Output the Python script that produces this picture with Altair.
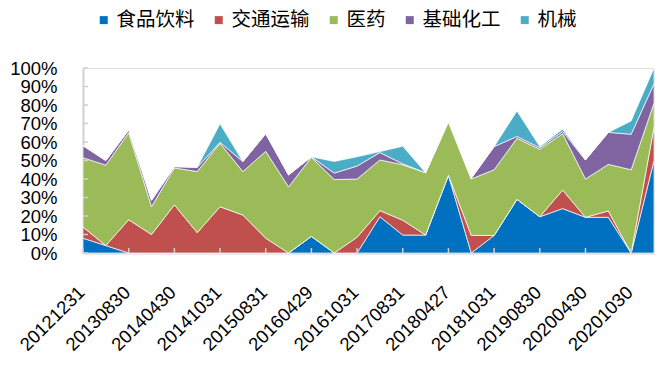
import altair as alt
import pandas as pd

dates = ["20121231", "20130430", "20130830", "20131231", "20140430", "20140829",
         "20141031", "20150430", "20150831", "20151231", "20160429", "20160831",
         "20161031", "20170428", "20170831", "20171229", "20180427", "20180831",
         "20181031", "20190430", "20190830", "20191231", "20200430", "20200831",
         "20201030", "20201231"]
shown_dates = dates[::2]

series = ["食品饮料", "交通运输", "医药", "基础化工", "机械"]
colors = ["#0070C0", "#C0504D", "#9BBB59", "#8064A2", "#4BACC6"]

food = [8, 4, 0, 0, 0, 0, 0, 0, 0, 0, 9, 0, 0, 19.6, 9.7, 9.7, 42, 0, 9.5, 29, 19.6, 24, 19.3, 19.3, 0, 50]
transport = [6, 0, 18, 10, 26, 11, 25, 20.5, 8, 0, 0, 0, 8.5, 3.3, 8, 0, 0, 9.5, 0, 0, 0, 10, 0, 3.4, 0, 18]
pharma = [37.5, 43.5, 47, 15, 20, 33, 34.3, 23.5, 47, 35.7, 42.7, 39.7, 31.5, 27.4, 30, 33.7, 28.7, 30.5, 35.5, 33, 36.4, 30.5, 20.7, 25.2, 45, 13]
chem = [6.5, 2.5, 1.5, 3.5, 0.7, 2.3, 0.5, 5.4, 9.5, 6.5, 0.3, 3.5, 7, 4, 0.5, 0, 0.8, 0.4, 12.5, 1, 0.9, 1.2, 10.3, 17.3, 19.2, 10.5]
machinery = [0, 0, 0, 0, 0, 0, 10, 0, 0, 0, 0, 6.3, 5, 0.5, 9.5, 0, 0, 0, 0, 13.8, 0.6, 1.3, 0, 0, 7.2, 8.5]

y_ticks = [0, 10, 20, 30, 40, 50, 60, 70, 80, 90, 100]

rows = []
for k, (name, vals) in enumerate(zip(series, [food, transport, pharma, chem, machinery])):
    for d, v in zip(dates, vals):
        rows.append({"date": d, "series": name, "value": v, "idx": k})
df = pd.DataFrame(rows)

W, H = 571, 185
LABEL_FONT = "Liberation Sans"

xscale = alt.Scale(type="point", padding=0, domain=dates)
yscale = alt.Scale(domain=[0, 100], nice=False)

x_axis = alt.Axis(values=shown_dates, title=None, labelAngle=315,
                  labelAlign="right", labelBaseline="middle",
                  labelFont=LABEL_FONT, labelFontSize=18.5, labelColor="#000000",
                  labelPadding=36, labelOffset=-2, ticks=False, domainColor="#D0D0D0",
                  domainWidth=2, grid=False, labelOverlap=False)
y_axis = alt.Axis(values=y_ticks, title=None, labelExpr="datum.value + '%'",
                  labelFont=LABEL_FONT, labelFontSize=18.5, labelColor="#000000",
                  labelPadding=26, ticks=False, domainColor="#D0D0D0",
                  domainWidth=2, grid=False, labelOverlap=False,
                  labelFlush=False, labelBound=False)

area = alt.Chart(df).mark_area(stroke="white", strokeWidth=0.7, opacity=1).encode(
    x=alt.X("date:N", scale=xscale, sort=None, axis=x_axis),
    y=alt.Y("value:Q", stack="zero", scale=yscale, axis=y_axis),
    color=alt.Color("series:N", scale=alt.Scale(domain=series, range=colors),
                    legend=alt.Legend(title=None, orient="none", direction="horizontal",
                                      legendX=11, legendY=-58, symbolType="square",
                                      symbolSize=64, symbolStrokeWidth=0, symbolOpacity=1,
                                      labelFont="Noto Sans CJK SC", labelFontSize=19.5,
                                      labelColor="#000000", labelOffset=3,
                                      columnPadding=14, padding=0)),
    order=alt.Order("idx:Q", sort="ascending"),
)

ytick_df = pd.DataFrame({"v": y_ticks})
yticks = alt.Chart(ytick_df).mark_rule(color="#D0D0D0", strokeWidth=1.5).encode(
    y=alt.Y("v:Q", scale=yscale, axis=y_axis),
    x=alt.value(0),
    x2=alt.value(5),
)

xtick_df = pd.DataFrame({"d": shown_dates})
xticks = alt.Chart(xtick_df).mark_rule(color="#D0D0D0", strokeWidth=1.5).encode(
    x=alt.X("d:N", scale=xscale, sort=None, axis=x_axis),
    y=alt.value(H),
    y2=alt.value(H - 5),
)

chart = alt.layer(area, yticks, xticks).properties(
    width=W, height=H,
    autosize=alt.AutoSizeParams(type="none"),
    padding={"left": 75, "top": 60, "right": 4, "bottom": 108},
).configure_view(stroke=None).configure(background="white")

chart.save("out.html", embed_options={"renderer": "svg", "actions": False})
